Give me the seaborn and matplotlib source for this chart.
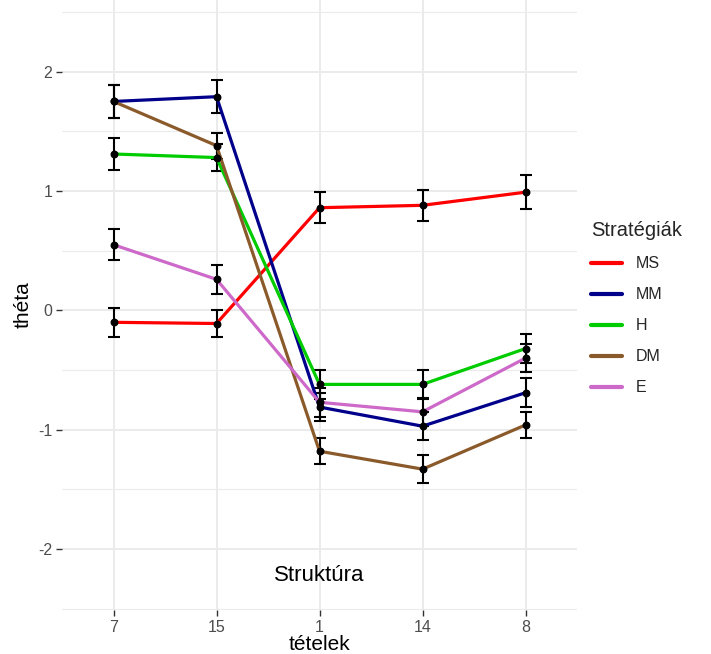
import numpy as np
import pandas as pd
import seaborn as sns
import matplotlib
matplotlib.use("Agg")
import matplotlib.pyplot as plt
from matplotlib.ticker import MultipleLocator

items = ["7", "15", "1", "14", "8"]
strategies = ["MS", "MM", "H", "DM", "E"]
theta_MS = [-0.10, -0.11, 0.86, 0.88, 0.99]
theta_MM = [1.75, 1.79, -0.81, -0.97, -0.69]
theta_H = [1.31, 1.28, -0.62, -0.62, -0.32]
theta_DM = [1.75, 1.38, -1.18, -1.33, -0.96]
theta_E = [0.55, 0.26, -0.77, -0.85, -0.40]
se_MS = [0.12, 0.11, 0.13, 0.13, 0.14]
se_MM = [0.14, 0.14, 0.12, 0.12, 0.12]
se_H = [0.13, 0.11, 0.12, 0.12, 0.12]
se_DM = [0.14, 0.11, 0.11, 0.12, 0.11]
se_E = [0.13, 0.12, 0.12, 0.12, 0.12]
colors = ["#FF0000", "#00008B", "#00CC00", "#8B5A2B", "#CD69C9"]

vals = [theta_MS, theta_MM, theta_H, theta_DM, theta_E]
ses = [se_MS, se_MM, se_H, se_DM, se_E]
rows = []
for s, v, e in zip(strategies, vals, ses):
    for i, (it, vv, ee) in enumerate(zip(items, v, e)):
        rows.append({"tetel": it, "pos": i, "Stratégiák": s, "theta": vv, "se": ee})
df = pd.DataFrame(rows)

sns.set_theme(style="whitegrid")
plt.rcParams["font.family"] = ["Liberation Sans", "DejaVu Sans"]
plt.rcParams["axes.unicode_minus"] = False

fig = plt.figure(figsize=(7.11, 6.54), dpi=100)
ax = fig.add_axes([62/711, 44/654, 515/711, 610/654])
ax.set_facecolor("white")

# error bars
ax.errorbar(df["pos"], df["theta"], yerr=df["se"], fmt="none", ecolor="black",
            elinewidth=1.5, capsize=4, capthick=1.5, zorder=2)
sns.lineplot(data=df, x="pos", y="theta", hue="Stratégiák", hue_order=strategies,
             palette=colors, linewidth=2.3, ax=ax, zorder=3, sort=False)
ax.scatter(df["pos"], df["theta"], color="black", s=22, zorder=4)

ax.set_xlim(-0.5, 4.5)
ax.set_ylim(-2.51, 2.6)
ax.set_xticks(range(len(items)))
ax.set_xticklabels(items)
ax.set_yticks([-2, -1, 0, 1, 2])
ax.yaxis.set_minor_locator(MultipleLocator(0.5))
ax.grid(True, which="major", color="#EBEBEB", linewidth=1.4)
ax.grid(True, which="minor", axis="y", color="#EBEBEB", linewidth=0.8)
for sp in ax.spines.values():
    sp.set_visible(False)
ax.tick_params(axis="both", which="major", length=4, width=1, color="#333333",
               labelsize=11.5, labelcolor="#4D4D4D", pad=3, bottom=True, left=True)
ax.tick_params(axis="y", which="minor", length=0)
ax.set_xlabel("tételek", fontsize=15, color="black", labelpad=0)
ax.set_ylabel("théta", fontsize=15, color="black", labelpad=4)

ax.text(2, -2.22, "Struktúra", ha="center", va="center", fontsize=16, color="black")

leg = ax.legend(title="Stratégiák", loc="upper left", bbox_to_anchor=(577/711, 1 - 207/654),
                bbox_transform=fig.transFigure, frameon=False, fontsize=11.5,
                title_fontsize=14.5, handlelength=1.9, handletextpad=0.9,
                labelspacing=1.0, alignment="left")
for line in leg.get_lines():
    line.set_linewidth(3)

fig.savefig("out.png", dpi=100)
